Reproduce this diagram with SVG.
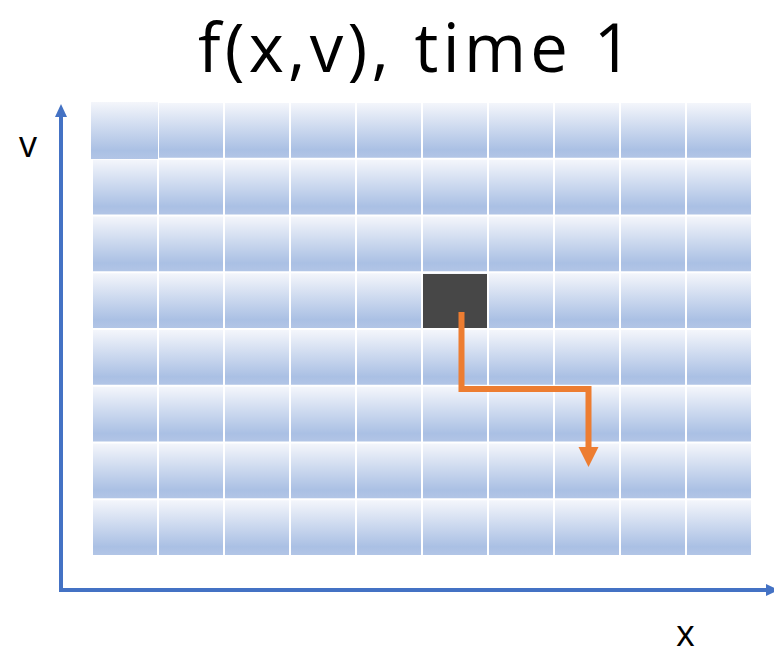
<svg xmlns="http://www.w3.org/2000/svg" width="774" height="656" viewBox="0 0 774 656">
<defs>
<linearGradient id="cellGrad" x1="0" y1="0" x2="0" y2="1">
<stop offset="0" stop-color="#f4f6fb"/>
<stop offset="0.85" stop-color="#aac0e4"/>
<stop offset="1" stop-color="#b2c5e6"/>
</linearGradient>
<pattern id="grid" x="92" y="102" width="66" height="56.75" patternUnits="userSpaceOnUse">
<rect x="1" y="1" width="64" height="54.75" fill="url(#cellGrad)"/>
</pattern>
<style>
.lbl{font-family:"Open Sans","Liberation Sans",sans-serif;fill:#000}
.axis{stroke:#4472c4;stroke-width:4;fill:none}
.axhead{fill:#4472c4}
.flow{stroke:#ed7d31;stroke-width:6;fill:none}
.flowhead{fill:#ed7d31}
</style>
</defs>
<g id="grid-cells">
<rect x="92" y="102" width="660" height="454" fill="url(#grid)"/>
<rect x="91" y="102" width="67" height="57" fill="url(#cellGrad)"/>
</g>
<g id="highlight-cell">
<rect x="423" y="274" width="64" height="54" fill="#474747"/>
</g>
<g id="connectors">
<path class="axis" d="M61,591 L61,114"/>
<polygon class="axhead" points="55,117 67,117 61,104"/>
<path class="axis" d="M59,590 L768,590"/>
<polygon class="axhead" points="766,584 766,596 779,590"/>
<path class="flow" d="M461.5,312 L461.5,389 L588.5,389 L588.5,449"/>
<polygon class="flowhead" points="578.5,447 598.5,447 588.5,467"/>
</g>
<g id="labels">
<text class="lbl" x="198" y="72" font-size="67" textLength="434" lengthAdjust="spacing">f(x,v), time 1</text>
<text class="lbl" x="28" y="157" font-size="36" text-anchor="middle">v</text>
<text class="lbl" x="685.5" y="646" font-size="36" text-anchor="middle">x</text>
</g>
</svg>
